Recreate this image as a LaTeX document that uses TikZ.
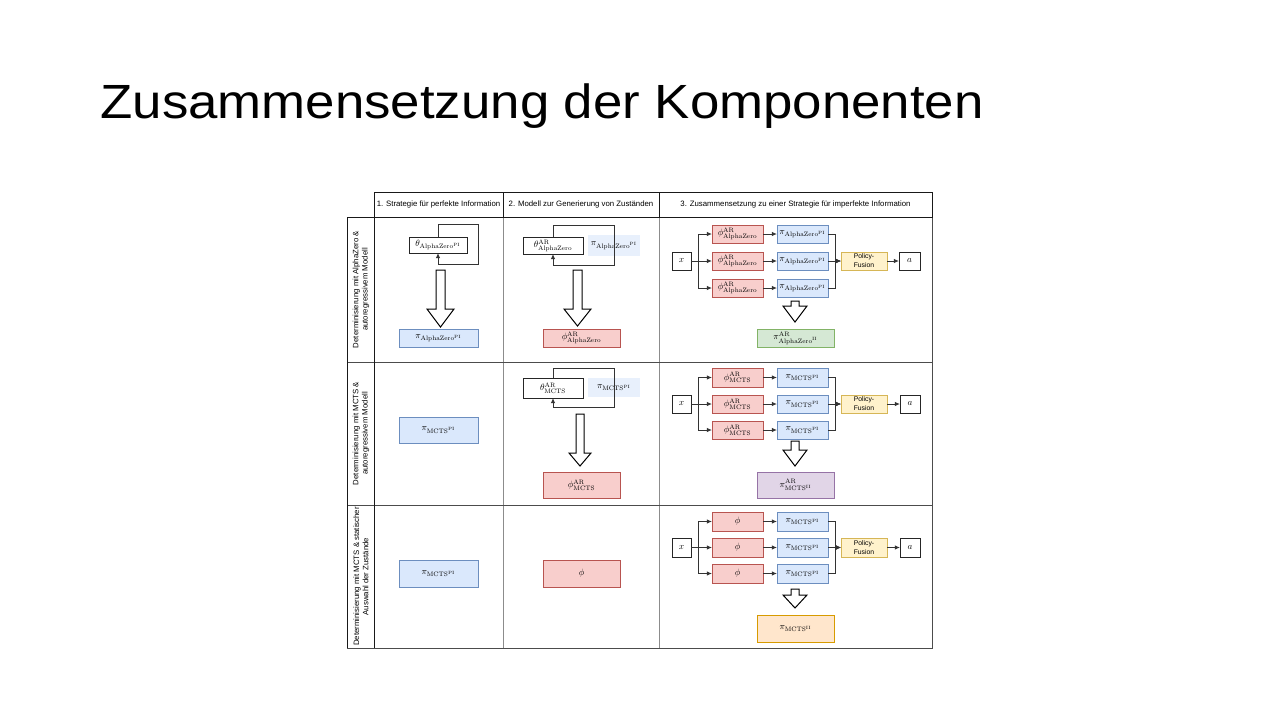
\RequirePackage{fix-cm}
\documentclass[tikz,border=0pt]{standalone}
\usepackage{fontspec}
\newfontfamily\arialfont{Liberation Sans}
\usetikzlibrary{arrows.meta}

\definecolor{redF}{HTML}{F8CECC}\definecolor{redD}{HTML}{B85450}
\definecolor{bluF}{HTML}{DAE8FC}\definecolor{bluD}{HTML}{6C8EBF}
\definecolor{grnF}{HTML}{D5E8D4}\definecolor{grnD}{HTML}{82B366}
\definecolor{purF}{HTML}{E1D5E7}\definecolor{purD}{HTML}{9673A6}
\definecolor{yelF}{HTML}{FFF2CC}\definecolor{yelD}{HTML}{D6B656}
\definecolor{oraF}{HTML}{FFE6CC}\definecolor{oraD}{HTML}{D79B00}
\definecolor{ltbF}{HTML}{E8F0FC}

% box given by its corners (x1,y1)-(x2,y2) in pixel units
\newcommand\mkbox[7]{\node[#2, minimum width={(#5-#3)*0.5pt}, minimum height={(#6-#4)*0.5pt}] (#1) at ({(#3+#5)/2},{(#4+#6)/2}) {#7};}
% hollow block arrow: centre x, shaft half width, head half width, top, head start, tip
\newcommand\bigarrow[6]{\draw[hollow] ({#1-#2},#4) -- ({#1+#2},#4) -- ({#1+#2},#5) -- ({#1+#3},#5) -- (#1,#6) -- ({#1-#3},#5) -- ({#1-#2},#5) -- cycle;}
% formulas are set at 10pt and shrunk, keeping the normal script designs
\newcommand\mth[1]{\scalebox{0.46}{$#1$}}
\newcommand\rmsf[1]{\mathrm{#1}}

\begin{document}
\begin{tikzpicture}[x=0.5pt,y=-0.5pt,
  box/.style={draw=black!85, line width=0.5pt, inner sep=0pt, outer sep=0pt, fill=white,
    font=\fontsize{10}{12}\selectfont},
  redbox/.style={box, fill=redF, draw=redD},
  blubox/.style={box, fill=bluF, draw=bluD},
  grnbox/.style={box, fill=grnF, draw=grnD},
  purbox/.style={box, fill=purF, draw=purD},
  orabox/.style={box, fill=oraF, draw=oraD},
  fusbox/.style={box, fill=yelF, draw=yelD, align=center,
    font=\arialfont\fontsize{3.4}{4.5}\selectfont},
  ltbox/.style={box, fill=ltbF, draw=none},
  conn/.style={draw=black!80, line width=0.5pt, -{Latex[length=2.6pt,width=2.3pt]}},
  hollow/.style={draw=black, fill=white, line width=0.5pt, line join=miter},
  hdr/.style={font=\arialfont\fontsize{3.9}{4.7}\selectfont, inner sep=0pt},
  rowlbl/.style={font=\arialfont\fontsize{3.9}{4.6}\selectfont, rotate=90, align=center, inner sep=0pt},
  dark/.style={draw=black!90, line width=0.5pt},
  mid/.style={draw=black!70, line width=0.5pt},
  light/.style={draw=black!45, line width=0.5pt}
]
\fill[white] (0,0) rectangle (1280,720);
\useasboundingbox (0,0) rectangle (1280,720);

% title
\node[anchor=base west, inner sep=0pt, font=\arialfont\fontsize{24}{28}\selectfont] (title) at (100,118)
  {\scalebox{1.1}[1]{Zusammensetzung der Komponenten}};

% ---------- table grid ----------
\draw[light] (503,217) -- (503,648);
\draw[light] (659,217) -- (659,648);
\draw[mid] (347,362) -- (932,362);
\draw[mid] (347,505) -- (932,505);
\draw[mid] (347,217) rectangle (932,648);
\draw[dark] (374,192) rectangle (932,217);
\draw[dark] (503,192) -- (503,217);
\draw[dark] (659,192) -- (659,217);
\draw[dark] (347,217) -- (374,217) -- (374,648);
\draw[dark] (347,217) -- (347,648);

% column headings
\node[hdr] (h1) at (438.5,204.5) {1. Strategie für perfekte Information};
\node[hdr] (h2) at (581,204.5) {2. Modell zur Generierung von Zuständen};
\node[hdr] (h3) at (795.5,204.5) {3. Zusammensetzung zu einer Strategie für imperfekte Information};

% row headings
\node[rowlbl] (r1) at (361,289.5) {Determinisierung mit AlphaZero \&\\autoregressivem Modell};
\node[rowlbl] (r2) at (361,433.5) {Determinisierung mit MCTS \&\\autoregressivem Modell};
\node[rowlbl] (r3) at (361,576.5) {Determinisierung mit MCTS \& statischer\\Auswahl der Zustände};

% ---------- row 1 ----------
\mkbox{thA}{box}{409}{237}{467}{253}{\mth{\theta_{\rmsf{AlphaZero}^{\rmsf{PI}}}}}
\draw[conn] (thA.north) -- ++(0,-13) -| ++(40,40) -| (thA.south);
\bigarrow{440.5}{4.5}{13.5}{270}{309}{327}
\mkbox{piA}{blubox}{399}{329}{478}{347}{\mth{\pi_{\rmsf{AlphaZero}^{\rmsf{PI}}}}}

\mkbox{thB}{box}{523}{237}{583}{254}{\mth{\theta^{\rmsf{AR}}_{\rmsf{AlphaZero}}}}
\mkbox{ltB}{ltbox}{588}{235}{640}{256}{\mth{\pi_{\rmsf{AlphaZero}^{\rmsf{PI}}}}}
\draw[conn] (thB.north) -- ++(0,-12) -| ++(61,40) -| (thB.south);
\bigarrow{577.5}{4.5}{13.5}{270}{309}{326}
\mkbox{phB}{redbox}{543}{329}{620}{347}{\mth{\phi^{\rmsf{AR}}_{\rmsf{AlphaZero}}}}

\mkbox{xA}{box}{672}{252}{691}{270}{\mth{x}}
\mkbox{pA1}{redbox}{712}{225}{763}{243}{\mth{\phi^{\rmsf{AR}}_{\rmsf{AlphaZero}}}}
\mkbox{pA2}{redbox}{712}{252}{763}{270}{\mth{\phi^{\rmsf{AR}}_{\rmsf{AlphaZero}}}}
\mkbox{pA3}{redbox}{712}{279}{763}{297}{\mth{\phi^{\rmsf{AR}}_{\rmsf{AlphaZero}}}}
\mkbox{qA1}{blubox}{777}{225}{828}{243}{\mth{\pi_{\rmsf{AlphaZero}^{\rmsf{PI}}}}}
\mkbox{qA2}{blubox}{777}{252}{828}{270}{\mth{\pi_{\rmsf{AlphaZero}^{\rmsf{PI}}}}}
\mkbox{qA3}{blubox}{777}{279}{828}{297}{\mth{\pi_{\rmsf{AlphaZero}^{\rmsf{PI}}}}}
\mkbox{fA}{fusbox}{841}{252}{887}{270}{Policy-\\Fusion}
\mkbox{aA}{box}{899}{252}{920}{270}{\mth{a}}
\draw[conn] (xA.east) -- ++(7,0) |- (pA1.west);
\draw[conn] (xA) -- (pA2);
\draw[conn] (xA.east) -- ++(7,0) |- (pA3.west);
\draw[conn] (pA1) -- (qA1);
\draw[conn] (pA2) -- (qA2);
\draw[conn] (pA3) -- (qA3);
\draw[conn] (qA1.east) -- ++(7,0) |- (fA.west);
\draw[conn] (qA2) -- (fA);
\draw[conn] (qA3.east) -- ++(7,0) |- (fA.west);
\draw[conn] (fA) -- (aA);
\bigarrow{795}{4}{12}{301}{306}{322}
\mkbox{rA}{grnbox}{757}{329}{834}{347}{\mth{\pi^{\rmsf{AR}}_{\rmsf{AlphaZero}^{\rmsf{II}}}}}

% ---------- row 2 ----------
\mkbox{piB}{blubox}{399}{417}{478}{443}{\mth{\pi_{\rmsf{MCTS}^{\rmsf{PI}}}}}

\mkbox{thC}{box}{523}{378}{583}{398}{\mth{\theta^{\rmsf{AR}}_{\rmsf{MCTS}}}}
\mkbox{ltC}{ltbox}{588}{378}{640}{397}{\mth{\pi_{\rmsf{MCTS}^{\rmsf{PI}}}}}
\draw[conn] (thC.north) -- ++(0,-10) -| ++(61,39) -| (thC.south);
\bigarrow{580}{4}{11}{414}{453}{466}
\mkbox{phC}{redbox}{543}{472}{620}{498}{\mth{\phi^{\rmsf{AR}}_{\rmsf{MCTS}}}}

\mkbox{xB}{box}{672}{395}{691}{413}{\mth{x}}
\mkbox{pB1}{redbox}{712}{368}{763}{387}{\mth{\phi^{\rmsf{AR}}_{\rmsf{MCTS}}}}
\mkbox{pB2}{redbox}{712}{395}{763}{413}{\mth{\phi^{\rmsf{AR}}_{\rmsf{MCTS}}}}
\mkbox{pB3}{redbox}{712}{421}{763}{439}{\mth{\phi^{\rmsf{AR}}_{\rmsf{MCTS}}}}
\mkbox{qB1}{blubox}{777}{368}{828}{387}{\mth{\pi_{\rmsf{MCTS}^{\rmsf{PI}}}}}
\mkbox{qB2}{blubox}{777}{395}{828}{413}{\mth{\pi_{\rmsf{MCTS}^{\rmsf{PI}}}}}
\mkbox{qB3}{blubox}{777}{421}{828}{439}{\mth{\pi_{\rmsf{MCTS}^{\rmsf{PI}}}}}
\mkbox{fB}{fusbox}{841}{395}{887}{413}{Policy-\\Fusion}
\mkbox{aB}{box}{900}{395}{920}{413}{\mth{a}}
\draw[conn] (xB.east) -- ++(7,0) |- (pB1.west);
\draw[conn] (xB) -- (pB2);
\draw[conn] (xB.east) -- ++(7,0) |- (pB3.west);
\draw[conn] (pB1) -- (qB1);
\draw[conn] (pB2) -- (qB2);
\draw[conn] (pB3) -- (qB3);
\draw[conn] (qB1.east) -- ++(7,0) |- (fB.west);
\draw[conn] (qB2) -- (fB);
\draw[conn] (qB3.east) -- ++(7,0) |- (fB.west);
\draw[conn] (fB) -- (aB);
\bigarrow{795}{4}{12}{441}{450}{466}
\mkbox{rB}{purbox}{757}{472}{834}{498}{\mth{\pi^{\rmsf{AR}}_{\rmsf{MCTS}^{\rmsf{II}}}}}

% ---------- row 3 ----------
\mkbox{piC}{blubox}{399}{560}{478}{587}{\mth{\pi_{\rmsf{MCTS}^{\rmsf{PI}}}}}
\mkbox{phD}{redbox}{543}{560}{620}{587}{\mth{\phi}}

\mkbox{xC}{box}{672}{538}{691}{557}{\mth{x}}
\mkbox{pC1}{redbox}{712}{512}{763}{531}{\mth{\phi}}
\mkbox{pC2}{redbox}{712}{538}{763}{557}{\mth{\phi}}
\mkbox{pC3}{redbox}{712}{564}{763}{583}{\mth{\phi}}
\mkbox{qC1}{blubox}{777}{512}{828}{531}{\mth{\pi_{\rmsf{MCTS}^{\rmsf{PI}}}}}
\mkbox{qC2}{blubox}{777}{538}{828}{557}{\mth{\pi_{\rmsf{MCTS}^{\rmsf{PI}}}}}
\mkbox{qC3}{blubox}{777}{564}{828}{583}{\mth{\pi_{\rmsf{MCTS}^{\rmsf{PI}}}}}
\mkbox{fC}{fusbox}{841}{538}{887}{557}{Policy-\\Fusion}
\mkbox{aC}{box}{900}{538}{920}{557}{\mth{a}}
\draw[conn] (xC.east) -- ++(7,0) |- (pC1.west);
\draw[conn] (xC) -- (pC2);
\draw[conn] (xC.east) -- ++(7,0) |- (pC3.west);
\draw[conn] (pC1) -- (qC1);
\draw[conn] (pC2) -- (qC2);
\draw[conn] (pC3) -- (qC3);
\draw[conn] (qC1.east) -- ++(7,0) |- (fC.west);
\draw[conn] (qC2) -- (fC);
\draw[conn] (qC3.east) -- ++(7,0) |- (fC.west);
\draw[conn] (fC) -- (aC);
\bigarrow{795}{4}{12}{589}{595}{608}
\mkbox{rC}{orabox}{757}{615}{834}{642}{\mth{\pi_{\rmsf{MCTS}^{\rmsf{II}}}}}
\end{tikzpicture}
\end{document}
